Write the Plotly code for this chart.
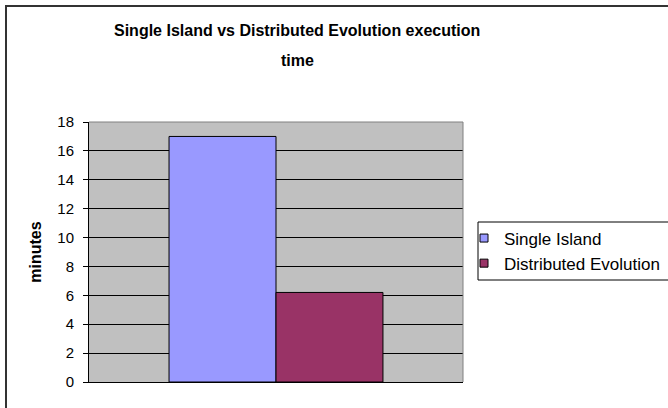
import plotly.graph_objects as go

categories = [""]
series_names = ["Single Island", "Distributed Evolution"]
series_values = [[17.0], [6.2]]
series_colors = ["#9999FF", "#993366"]
y_ticks = [0, 2, 4, 6, 8, 10, 12, 14, 16, 18]
title_lines = ["Single Island vs Distributed Evolution execution", "time"]

W, H = 668, 408
# plot area in page pixels
PX0, PX1, PY0, PY1 = 89, 463, 122, 382
pw, ph = PX1 - PX0, PY1 - PY0
L, T = PX0, PY0
R, B = W - L - pw, H - T - ph

def px(x):
    return (x - PX0) / pw

def py(y):
    return (PY1 - y) / ph

font = "Liberation Sans, Arial, sans-serif"

fig = go.Figure()
for name, vals, col in zip(series_names, series_values, series_colors):
    fig.add_trace(go.Bar(x=categories, y=vals, name=name,
                         marker=dict(color=col, line=dict(color="black", width=1)), showlegend=False))
for name, col in zip(series_names, series_colors):
    fig.add_trace(go.Scatter(x=[None], y=[None], mode="markers", name=name,
                             marker=dict(symbol="square", size=8, color=col,
                                         line=dict(color="black", width=1))))

annotations = [
    dict(text="<b>" + title_lines[0] + "</b>", xref="paper", yref="paper", x=px(297), y=py(31),
         xanchor="center", yanchor="middle", showarrow=False, font=dict(size=16, family=font, color="black")),
    dict(text="<b>" + title_lines[1] + "</b>", xref="paper", yref="paper", x=px(297), y=py(61),
         xanchor="center", yanchor="middle", showarrow=False, font=dict(size=16, family=font, color="black")),
]

fig.update_layout(
    width=W, height=H,
    margin=dict(l=L, r=R, t=T, b=B, autoexpand=False),
    paper_bgcolor="white", plot_bgcolor="#C0C0C0",
    font=dict(family=font, size=15, color="black"),
    barmode="group", bargap=0.428, bargroupgap=0,
    showlegend=True,
    legend=dict(x=px(464), y=py(251), xanchor="left", yanchor="middle", xref="paper", yref="paper",
                borderwidth=0, bgcolor="rgba(0,0,0,0)",
                font=dict(size=17, family=font), itemwidth=30, tracegroupgap=0),
    xaxis=dict(showticklabels=False, showgrid=False, showline=True, linecolor="black", linewidth=1,
               ticks="", zeroline=False),
    yaxis=dict(range=[0, 18], tickvals=y_ticks, showgrid=True, gridcolor="black", gridwidth=1,
               showline=True, linecolor="black", linewidth=1, ticks="outside", ticklen=5,
               tickcolor="black", zeroline=False, ticklabelstandoff=6,
               tickfont=dict(size=15, family=font),
               title=dict(text="<b>minutes</b>", font=dict(size=16, family=font), standoff=11)),
    annotations=annotations,
    shapes=[
        dict(type="rect", xref="paper", yref="paper", x0=px(6), x1=px(690), y0=py(6), y1=py(430),
             line=dict(color="#333333", width=2), fillcolor="rgba(0,0,0,0)", layer="below"),
        dict(type="line", xref="paper", yref="paper", x0=0, x1=1, y0=1, y1=1,
             line=dict(color="#808080", width=1)),
        dict(type="line", xref="paper", yref="paper", x0=1, x1=1, y0=0, y1=1,
             line=dict(color="#808080", width=1)),
        dict(type="rect", xref="paper", yref="paper", x0=px(478), x1=px(700), y0=py(222), y1=py(280),
             line=dict(color="black", width=1), fillcolor="white", layer="below"),
    ],
)
fig.write_html("out.html", config={"displayModeBar": False},
               post_script="document.body.style.margin='0px';")
